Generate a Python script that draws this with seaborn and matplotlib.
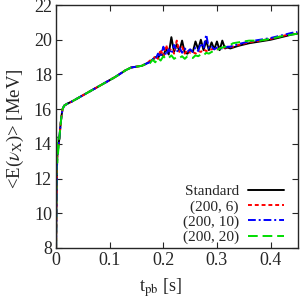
import numpy as np
import pandas as pd
import seaborn as sns
import matplotlib.pyplot as plt

# shared early rise (t in s, E in MeV)
t_early = [0.0, 0.001, 0.002, 0.004, 0.006, 0.008, 0.010, 0.012, 0.015, 0.02, 0.03, 0.05,
           0.07, 0.09, 0.11, 0.13, 0.14, 0.15, 0.16, 0.17]
e_early = [8.0, 11.5, 13.2, 13.8, 14.3, 15.0, 15.6, 16.0, 16.2, 16.3, 16.45, 16.8,
           17.15, 17.5, 17.85, 18.25, 18.4, 18.45, 18.5, 18.65]

t_mid = [0.175, 0.180, 0.185, 0.190, 0.195, 0.200, 0.205, 0.210, 0.215, 0.220, 0.225,
         0.230, 0.235, 0.240, 0.245, 0.250, 0.255, 0.260, 0.265, 0.270, 0.275, 0.280,
         0.285, 0.290, 0.295, 0.300, 0.305, 0.310, 0.315, 0.320, 0.325, 0.330]
t_late = [0.34, 0.36, 0.38, 0.40, 0.42, 0.44, 0.45]

std_mid = [18.75, 18.85, 19.0, 18.95, 19.2, 19.05, 19.5, 19.15, 20.15, 19.3, 19.75,
           19.35, 19.95, 19.25, 19.2, 19.4, 19.3, 19.9, 19.45, 20.0, 19.4, 19.95,
           19.4, 19.85, 19.45, 19.9, 19.4, 19.95, 19.5, 19.55, 19.5, 19.55]
std_late = [19.65, 19.8, 19.9, 20.0, 20.15, 20.3, 20.35]

r6_mid = [18.8, 18.75, 19.1, 18.9, 19.45, 19.0, 19.7, 19.3, 19.5, 19.2, 19.95,
          19.3, 19.6, 19.2, 19.45, 19.25, 19.3, 19.2, 19.35, 19.3, 19.45, 19.35,
          19.4, 19.45, 19.5, 19.45, 19.5, 19.5, 19.55, 19.55, 19.6, 19.6]
r6_late = [19.7, 19.85, 19.95, 20.05, 20.2, 20.35, 20.4]

r10_mid = [18.7, 18.9, 18.85, 19.2, 19.0, 19.6, 19.1, 19.45, 19.2, 19.7, 19.3,
           19.55, 19.25, 19.5, 19.3, 19.45, 19.3, 19.55, 19.35, 19.8, 19.5, 20.3,
           19.5, 19.6, 19.45, 19.55, 19.5, 19.5, 19.55, 19.6, 19.6, 19.65]
r10_late = [19.75, 19.9, 20.0, 20.1, 20.25, 20.4, 20.45]

r20_mid = [18.65, 18.85, 18.7, 18.95, 18.8, 19.05, 18.9, 18.95, 19.1, 18.9, 19.0,
           18.95, 19.05, 18.9, 19.05, 19.0, 18.95, 19.1, 19.05, 19.15, 19.1, 19.25,
           19.2, 19.3, 19.35, 19.4, 19.5, 19.55, 19.6, 19.65, 19.7, 19.8]
r20_late = [19.85, 19.95, 19.95, 20.05, 20.2, 20.3, 20.35]

labels = ['Standard', '(200, 6)', '(200, 10)', '(200, 20)']
colors = ['black', 'red', 'blue', '#00dd00']
dash_styles = ['', (2.0, 1.5), (4, 1.5, 1, 1.5), (5, 2.5)]

series = [std_mid + std_late, r6_mid + r6_late, r10_mid + r10_late, r20_mid + r20_late]
frames = []
for lab, vals in zip(labels, series):
    e0 = list(e_early)
    if lab == '(200, 20)':
        e0[1:4] = [14.4, 12.9, 13.6]
    frames.append(pd.DataFrame({'t': t_early + t_mid + t_late, 'E': e0 + vals, 'run': lab}))
df = pd.concat(frames, ignore_index=True)

sns.set_style('ticks')
plt.rcParams['font.family'] = ['Liberation Serif', 'DejaVu Serif']
plt.rcParams['mathtext.fontset'] = 'stix'

fig = plt.figure(figsize=(3.0, 2.97), dpi=100)
ax = fig.add_axes([0.187, 0.165, 0.806, 0.818])

sns.lineplot(data=df, x='t', y='E', hue='run', style='run', hue_order=labels, style_order=labels,
             palette=dict(zip(labels, colors)), dashes=dict(zip(labels, dash_styles)),
             estimator=None, sort=False, lw=1.4, ax=ax)

ax.set_xlim(0, 0.451)
ax.set_ylim(8, 22)
ax.set_xticks([0, 0.1, 0.2, 0.3, 0.4])
ax.set_xticklabels(['0', '0.1', '0.2', '0.3', '0.4'])
ax.set_yticks(range(8, 23, 2))
ax.tick_params(direction='in', top=True, right=True, length=4, width=0.8, labelsize=13, pad=3)
for s in ax.spines.values():
    s.set_linewidth(1.0)
ax.set_xlabel(r't$_{\rm pb}$ [s]', fontsize=13)
ax.set_ylabel(r'<E($\nu_{\rm X}$)> [MeV]', fontsize=13.5)
ax.xaxis.set_label_coords(0.43, -0.115)
ax.yaxis.set_label_coords(-0.125, 0.49)

handles, labs = ax.get_legend_handles_labels()
ax.legend(handles, labs, loc='lower right', bbox_to_anchor=(0.967, -0.01),
          frameon=False, markerfirst=False, fontsize=11, handlelength=2.35,
          labelspacing=0.1, borderaxespad=0, handletextpad=0.6)

fig.savefig('out.png', dpi=100)
